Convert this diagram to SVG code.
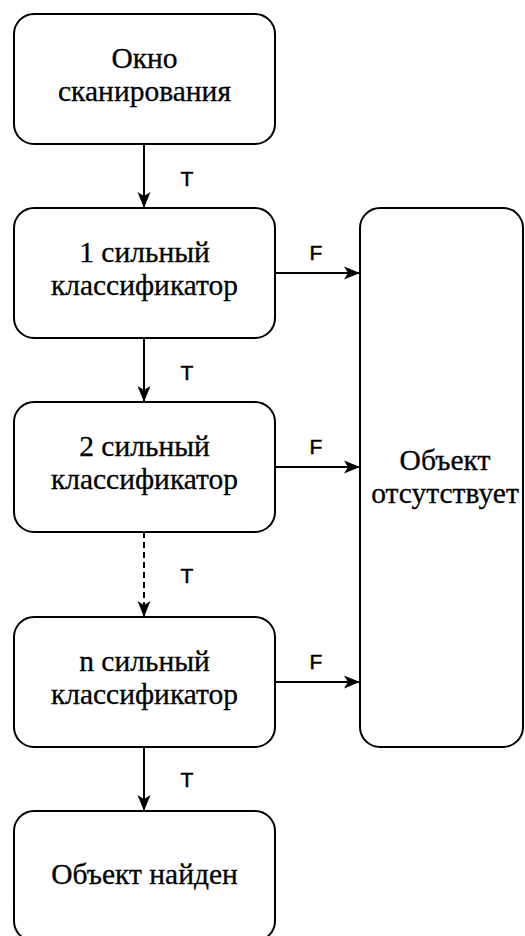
<svg xmlns="http://www.w3.org/2000/svg" width="525" height="936" viewBox="0 0 525 936">
<defs>
<marker id="arr" viewBox="0 0 16 14" refX="15" refY="7" markerWidth="16" markerHeight="14" markerUnits="userSpaceOnUse" orient="auto">
<path d="M0,0.5 L16,7 L0,13.5 L4,7 Z" fill="#000"/>
</marker>
<style>
.box{fill:#fff;stroke:#000;stroke-width:2}
.t{font-family:"Liberation Serif","Times New Roman",serif;font-size:29.5px;fill:#000;stroke:#000;stroke-width:0.3;text-anchor:middle}
.lbl{font-family:"Liberation Sans",Arial,sans-serif;font-size:21px;fill:#000;stroke:#000;stroke-width:0.5;text-anchor:middle}
.c{stroke:#000;stroke-width:2;fill:none}
</style>
</defs>
<rect width="525" height="936" fill="#fff"/>
<g id="connectors">
<line class="c" x1="144" y1="144" x2="144" y2="207" marker-end="url(#arr)"/>
<line class="c" x1="144" y1="338" x2="144" y2="401" marker-end="url(#arr)"/>
<line class="c" x1="144" y1="532" x2="144" y2="616" stroke-dasharray="6,4" marker-end="url(#arr)"/>
<line class="c" x1="144" y1="747" x2="144" y2="810" marker-end="url(#arr)"/>
<line class="c" x1="275" y1="273" x2="359" y2="273" marker-end="url(#arr)"/>
<line class="c" x1="275" y1="467" x2="359" y2="467" marker-end="url(#arr)"/>
<line class="c" x1="275" y1="682" x2="359" y2="682" marker-end="url(#arr)"/>
<text class="lbl" x="187" y="186">T</text>
<text class="lbl" x="187" y="380">T</text>
<text class="lbl" x="187" y="583">T</text>
<text class="lbl" x="187" y="787">T</text>
<text class="lbl" x="316" y="260">F</text>
<text class="lbl" x="316" y="454">F</text>
<text class="lbl" x="316" y="669">F</text>
</g>
<g id="n_window">
<rect class="box" x="14" y="14" width="261" height="130" rx="20"/>
<text class="t" x="144.5" y="68">Окно</text>
<text class="t" x="144.5" y="101">сканирования</text>
</g>
<g id="n_c1">
<rect class="box" x="14" y="208" width="261" height="130" rx="20"/>
<text class="t" x="144.5" y="262">1 сильный</text>
<text class="t" x="144.5" y="295">классификатор</text>
</g>
<g id="n_c2">
<rect class="box" x="14" y="402" width="261" height="130" rx="20"/>
<text class="t" x="144.5" y="456">2 сильный</text>
<text class="t" x="144.5" y="489">классификатор</text>
</g>
<g id="n_cn">
<rect class="box" x="14" y="617" width="261" height="130" rx="20"/>
<text class="t" x="144.5" y="671">n сильный</text>
<text class="t" x="144.5" y="704">классификатор</text>
</g>
<g id="n_found">
<rect class="box" x="14" y="811" width="261" height="130" rx="20"/>
<text class="t" x="144.5" y="884">Объект найден</text>
</g>
<g id="n_absent">
<rect class="box" x="360" y="208" width="163" height="539" rx="20"/>
<text class="t" x="445" y="470">Объект</text>
<text class="t" x="445" y="503">отсутствует</text>
</g>
</svg>
